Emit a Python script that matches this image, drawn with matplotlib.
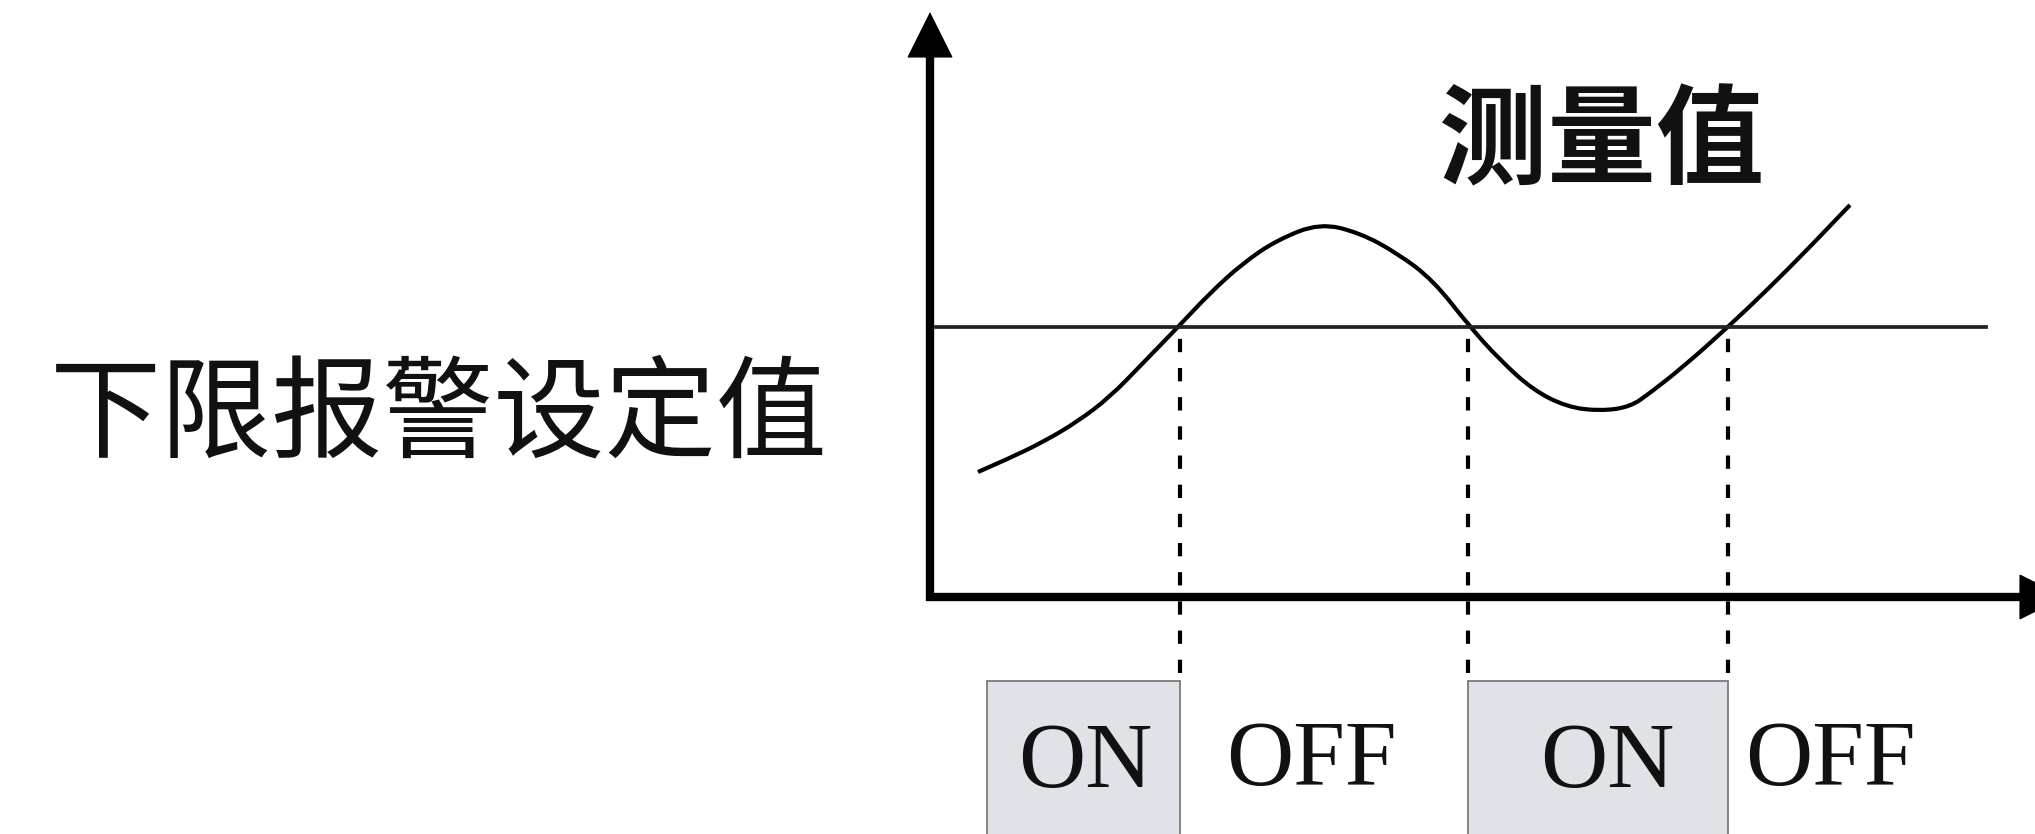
import matplotlib.pyplot as plt
from matplotlib.patches import Rectangle, PathPatch
from matplotlib.path import Path

plt.rcParams['font.family'] = ['Noto Sans CJK SC', 'DejaVu Sans']

# measured value curve (time, value); axis origin at (0, 0)
t = [0.48, 0.80, 1.13, 1.47, 1.80, 2.13, 2.48, 2.80, 3.13, 3.47, 3.90,
     4.30, 4.67, 5.03, 5.40, 5.70, 6.03, 6.37, 6.70, 7.00, 7.20, 7.53, 7.98,
     8.37, 8.80, 9.20]
v = [1.25, 1.39, 1.55, 1.75, 2.00, 2.34, 2.70, 3.04, 3.34, 3.57, 3.74,
     3.64, 3.44, 3.17, 2.70, 2.37, 2.07, 1.90, 1.86, 1.90, 2.04, 2.30, 2.70,
     3.07, 3.50, 3.92]

setpoint = 2.70
crossings = [2.50, 5.38, 7.98]
on_start = [0.57, 5.38]
on_end = [2.50, 7.98]
on_label_x = [1.55, 6.77]
off_label_x = [3.81, 9.00]


def smooth_path(xs, ys):
    # quadratic bezier through midpoints, read points act as control points
    pts = list(zip(xs, ys))
    verts = [pts[0]]
    codes = [Path.MOVETO]
    for i in range(1, len(pts) - 1):
        mid = ((pts[i][0] + pts[i + 1][0]) / 2, (pts[i][1] + pts[i + 1][1]) / 2)
        if i == len(pts) - 2:
            mid = pts[-1]
        verts += [pts[i], mid]
        codes += [Path.CURVE3, Path.CURVE3]
    return Path(verts, codes)


fig = plt.figure(figsize=(20.35, 8.34), dpi=100)
ax = fig.add_axes([0, 0, 1, 1])
ax.set_xlim(-9.30, 11.05)
ax.set_ylim(-2.37, 5.97)
ax.axis('off')

# axes with arrow heads
ax.plot([-0.04, 10.95], [0, 0], color='black', lw=6, solid_capstyle='butt')
ax.plot([0, 0], [-0.04, 5.45], color='black', lw=6, solid_capstyle='butt')
ax.annotate('', xy=(11.35, 0), xytext=(10.8, 0), annotation_clip=False,
            arrowprops=dict(arrowstyle='-|>', color='black', lw=1,
                            mutation_scale=78, shrinkA=0, shrinkB=0))
ax.annotate('', xy=(0, 5.85), xytext=(0, 5.3), annotation_clip=False,
            arrowprops=dict(arrowstyle='-|>', color='black', lw=1,
                            mutation_scale=78, shrinkA=0, shrinkB=0))

# set value line and measured curve
ax.plot([0.06, 10.56], [setpoint, setpoint], color='#222222', lw=2.7)
ax.add_patch(PathPatch(smooth_path(t, v), facecolor='none', edgecolor='black',
                       lw=3.0, capstyle='butt'))

# ON boxes
for a, b in zip(on_start, on_end):
    ax.add_patch(Rectangle((a, -3.0), b - a, 3.0 - 0.84,
                           facecolor='#dfe2e7', edgecolor='#7a7a7a', lw=1.3))

ax.vlines(crossings, -0.76, setpoint, colors='black', lw=3.0,
          linestyles=(0, (3.2, 3.8)))

for x in on_label_x:
    ax.text(x, -1.67, 'ON', family='Liberation Serif', fontsize=67,
            ha='center', va='center', color='#111111')
for x in off_label_x:
    ax.text(x, -1.65, 'OFF', family='Liberation Serif', fontsize=67,
            ha='center', va='center', color='#111111')

ax.text(6.72, 4.53, '测量值', fontsize=78, fontweight='bold',
        ha='center', va='center', color='#111111')
ax.text(-4.91, 1.80, '下限报警设定值', fontsize=80, fontweight='light',
        ha='center', va='center', color='#111111')

fig.savefig('out.png', dpi=100)
